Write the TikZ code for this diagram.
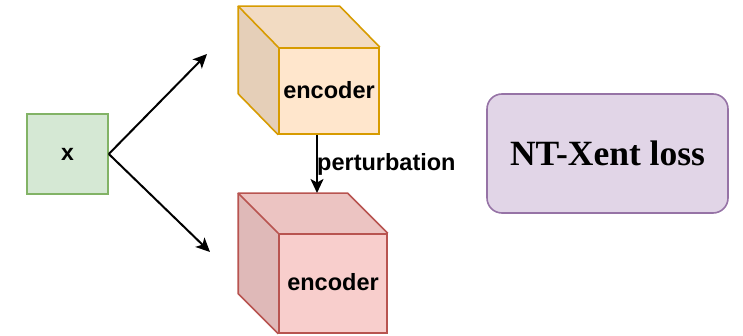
\documentclass[tikz,border=0pt]{standalone}
\usepackage{fontspec}
\setmainfont{Liberation Serif}
\setsansfont{Liberation Sans}
\usetikzlibrary{arrows.meta,calc}

\definecolor{orfill}{HTML}{FFE6CC}
\definecolor{ordraw}{HTML}{D79B00}
\definecolor{rdfill}{HTML}{F8CECC}
\definecolor{rddraw}{HTML}{B85450}
\definecolor{grfill}{HTML}{D5E8D4}
\definecolor{grdraw}{HTML}{82B366}
\definecolor{pufill}{HTML}{E1D5E7}
\definecolor{pudraw}{HTML}{9673A6}

\tikzset{
  face/.style={line width=1.6pt, line join=round},
  frontface/.style={draw, rectangle, line width=1.6pt, inner sep=0pt},
  arr/.style={draw=black, line width=2pt,
    -{Stealth[length=14pt, width=13pt, inset=3.5pt]}},
  lbl/.style={font=\sffamily\bfseries\fontsize{23.5}{26}\selectfont, inner sep=0pt},
}

% draws the top and left faces of a cube behind a front-face node
\newcommand{\cubeback}[4]{% node, dx, dy, colours
  \fill[#4!95!black] (#1.north west) -- ++(#2,#3) -- ($(#1.north east)+(#2,#3)$) -- (#1.north east) -- cycle;
  \fill[#4!90!black] (#1.north west) -- ++(#2,#3) -- ($(#1.south west)+(#2,#3)$) -- (#1.south west) -- cycle;
}

\begin{document}
\begin{tikzpicture}[x=1pt,y=-1pt]
\useasboundingbox (0,0) rectangle (743,336);

% input
\node[draw=grdraw, fill=grfill, line width=1.6pt, minimum width=81pt, minimum height=80pt,
  font=\sffamily\bfseries\fontsize{23}{25}\selectfont] (x) at (67.5,154) {x};

% upper encoder
\node[frontface, draw=ordraw, fill=orfill, minimum width=100pt, minimum height=86pt] (enc1) at (329,91) {};
\cubeback{enc1}{-40}{-41}{orfill}
\draw[face, draw=ordraw] (enc1.north west) -- ++(-40,-41) coordinate (e1tl) -- ($(enc1.north east)+(-40,-41)$) -- (enc1.north east);
\draw[face, draw=ordraw] (e1tl) -- ($(enc1.south west)+(-40,-41)$) -- (enc1.south west);
\node[frontface, draw=ordraw, fill=orfill, minimum width=100pt, minimum height=86pt] at (enc1) {};
\node[lbl, anchor=base] (t1) at (329,99) {encoder};

% lower encoder
\node[frontface, draw=rddraw, fill=rdfill, minimum width=108pt, minimum height=99pt] (enc2) at (333,283.5) {};
\cubeback{enc2}{-40}{-40}{rdfill}
\draw[face, draw=rddraw] (enc2.north west) -- ++(-40,-40) coordinate (e2tl) -- ($(enc2.north east)+(-40,-40)$) -- (enc2.north east);
\draw[face, draw=rddraw] (e2tl) -- ($(enc2.south west)+(-40,-40)$) -- (enc2.south west);
\node[frontface, draw=rddraw, fill=rdfill, minimum width=108pt, minimum height=99pt] at (enc2) {};
\node[lbl, anchor=base] (t2) at (333,290) {encoder};

% loss
\node[draw=pudraw, fill=pufill, line width=1.6pt, rounded corners=15pt,
  minimum width=241pt, minimum height=119pt,
  font=\rmfamily\bfseries\fontsize{35.5}{38}\selectfont] (loss) at (607.5,153.5) {NT-Xent loss};

% connectors
\coordinate (up) at (207,54);
\coordinate (dn) at (210,252);
\coordinate (p2) at (317,193);
\draw[arr] (x.east) -- (up);
\draw[arr] (x.east) -- (dn);
\draw[arr] (enc1.south -| p2) -- (p2);
\node[lbl, anchor=base west] (pert) at (317,171) {perturbation};
\end{tikzpicture}
\end{document}
